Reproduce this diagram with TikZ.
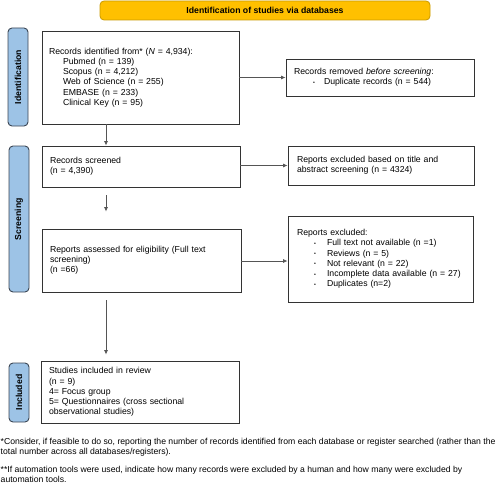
\documentclass[tikz,border=0pt]{standalone}
\usepackage{fontspec}
\setmainfont{Liberation Sans}
\usetikzlibrary{arrows.meta}
\definecolor{bannerfill}{HTML}{FFC000}
\definecolor{bannerdraw}{HTML}{C99A00}
\definecolor{tabfill}{HTML}{9DC3E6}
\definecolor{tabdraw}{HTML}{3B4654}
\definecolor{boxdraw}{HTML}{333333}
\definecolor{arrdraw}{HTML}{555555}
\newcommand{\bul}[1]{\hspace*{19pt}\makebox[11pt][l]{\raisebox{0.5pt}{\scalebox{0.6}{•}}}#1}
\newcommand{\bulb}[1]{\hspace*{17pt}\makebox[13pt][l]{\raisebox{0.5pt}{\scalebox{0.6}{•}}}#1}
\begin{document}
\begin{tikzpicture}[x=1pt,y=-1pt,
  txt/.style={font=\fontsize{8.7pt}{10.2pt}\selectfont},
  fntxt/.style={font=\fontsize{8.65pt}{10pt}\selectfont},
  flowbox/.style={txt,draw=boxdraw,line width=0.9pt,fill=white,align=left,inner ysep=2pt},
  tabbox/.style={draw=tabdraw,line width=0.9pt,fill=tabfill,rounded corners=4pt},
  arr/.style={draw=arrdraw,line width=0.7pt,-{Latex[length=4.5pt,width=4pt]}}]
\useasboundingbox (0,0) rectangle (500,487);
% banner
\node[draw=bannerdraw,fill=bannerfill,line width=0.8pt,rounded corners=4pt,
  minimum width=330pt,minimum height=19pt,inner sep=0pt,
  font=\bfseries\fontsize{8.7pt}{10pt}\selectfont] (banner) at (265,10.5) {Identification of studies via databases};
% tabs
\node[tabbox,minimum width=20pt,minimum height=98pt,inner sep=0pt] (tabid) at (18,77) {};
\node[rotate=90,font=\bfseries\fontsize{8.7pt}{10pt}\selectfont] (tabidl) at (tabid.center) {Identification};
\node[tabbox,minimum width=20pt,minimum height=146pt,inner sep=0pt] (tabsc) at (19,219) {};
\node[rotate=90,font=\bfseries\fontsize{8.7pt}{10pt}\selectfont] (tabscl) at (tabsc.center) {Screening};
\node[tabbox,minimum width=20pt,minimum height=59pt,inner sep=0pt] (tabin) at (19,392.5) {};
\node[rotate=90,font=\bfseries\fontsize{8.7pt}{10pt}\selectfont] (tabinl) at (tabin.center) {Included};
% boxes
\node[flowbox,minimum width=197pt,minimum height=93pt,inner xsep=7pt,text width=183pt] (ident) at (140.5,77.5)
 {Records identified from* (\textit{N} = 4,934):\\
  \hspace*{14pt}Pubmed (n = 139)\\
  \hspace*{14pt}Scopus (n = 4,212)\\
  \hspace*{14pt}Web of Science (n = 255)\\
  \hspace*{14pt}EMBASE (n = 233)\\
  \hspace*{14pt}Clinical Key (n = 95)};
\node[flowbox,minimum width=188pt,minimum height=37pt,inner xsep=8pt,text width=172pt] (removed) at (380,77.5)
 {Records removed \textit{before screening}:\\
  \bul{Duplicate records (n = 544)}};
\node[flowbox,minimum width=198pt,minimum height=41pt,inner xsep=8pt,text width=182pt] (screen) at (141,166.5)
 {Records screened\\(n = 4,390)};
\node[flowbox,minimum width=186pt,minimum height=39pt,inner xsep=9pt,text width=168pt] (excl1) at (381,165.5)
 {Reports excluded based on title and\\abstract screening (n = 4324)};
\node[flowbox,minimum width=199pt,minimum height=63pt,inner xsep=8pt,text width=183pt] (assess) at (141.5,260.5)
 {Reports assessed for eligibility (Full text\\screening)\\(n =66)};
\node[flowbox,minimum width=185pt,minimum height=86pt,inner xsep=9pt,text width=167pt] (excl2) at (380.5,259)
 {Reports excluded:\\
  \bulb{Full text not available (n =1)}\\
  \bulb{Reviews (n = 5)}\\
  \bulb{Not relevant (n = 22)}\\
  \bulb{Incomplete data available (n = 27)}\\
  \bulb{Duplicates (n=2)}};
\node[flowbox,minimum width=198pt,minimum height=62pt,inner xsep=8pt,text width=182pt] (incl) at (140,392)
 {Studies included in review\\(n = 9)\\4= Focus group\\5= Questionnaires (cross sectional\\observational studies)};
% footnotes
\node[fntxt,anchor=north west,inner sep=0pt,align=left] (fn1) at (0.5,438)
 {*Consider, if feasible to do so, reporting the number of records identified from each database or register searched (rather than the\\total number across all databases/registers).};
\node[fntxt,anchor=north west,inner sep=0pt,align=left] (fn2) at (0.5,466)
 {**If automation tools were used, indicate how many records were excluded by a human and how many were excluded by\\automation tools.};
% arrows
\draw[arr] (ident.east) -- (removed.west);
\draw[arr] (screen.east |- 0,165.5) -- (excl1.west);
\draw[arr] (assess.east |- 0,261) -- (excl2.west |- 0,261);
\draw[arr] (ident.south -| 106,0) -- (screen.north -| 106,0);
\draw[arr,shorten <=8pt,shorten >=17pt] (screen.south -| 106,0) -- (assess.north -| 106,0);
\draw[arr,shorten <=8pt,shorten >=6pt] (assess.south -| 106,0) -- (incl.north -| 106,0);
\end{tikzpicture}
\end{document}
